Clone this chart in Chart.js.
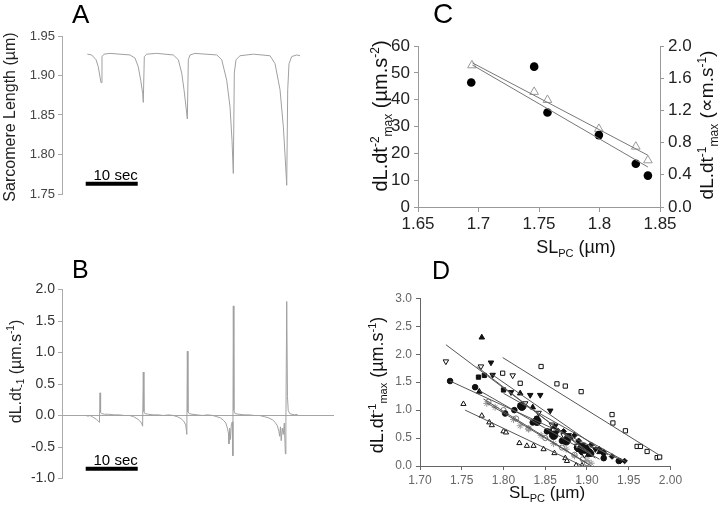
<!DOCTYPE html>
<html><head><meta charset="utf-8">
<script src="https://cdn.jsdelivr.net/npm/chart.js@4.4.0/dist/chart.umd.min.js"></script>
<style>
html,body{margin:0;padding:0;background:#fff;}
#wrap{position:relative;width:720px;height:515px;overflow:hidden;}
canvas{position:absolute;}
</style></head>
<body><div id="wrap">
<canvas id="cA" width="360" height="250" style="left:0;top:0"></canvas>
<canvas id="cB" width="360" height="265" style="left:0;top:250px"></canvas>
<canvas id="cC" width="360" height="260" style="left:360px;top:0"></canvas>
<canvas id="cD" width="360" height="255" style="left:360px;top:260px"></canvas>
</div>
<script>
// ---------- DATA ----------
// Panel A: sarcomere length trace (time s, SL µm)
const aTime = [4.87,5.71,6.54,6.98,7.31,7.50,7.69,8.08,9.23,13.08,
 14.04,14.67,15.13,15.52,15.63,15.83,16.29,18.21,21.40,22.37,
 23.02,23.46,23.85,24.10,24.29,24.62,25.58,29.75,30.71,31.67,
 32.31,32.69,32.94,33.13,33.46,34.23,36.79,40.00,40.96,41.92,
 42.56,42.94,43.21,43.40,43.65,44.17,45.13,45.77];
const aSL = [1.927,1.926,1.920,1.911,1.898,1.891,1.924,1.927,1.928,1.926,
 1.922,1.911,1.894,1.877,1.866,1.924,1.927,1.928,1.926,1.920,
 1.903,1.882,1.860,1.845,1.920,1.926,1.928,1.926,1.920,1.894,
 1.860,1.818,1.776,1.903,1.920,1.925,1.927,1.925,1.915,1.882,
 1.835,1.793,1.761,1.882,1.915,1.924,1.926,1.925];
const aScaleBarT = [4.56, 14.56];
const aScaleBarY = [1.763, 1.763];

// Panel B: velocity trace (time s, dL/dt µm/s)
const bTime = [4.6,5.0,5.4,5.8,6.2,6.6,7.0,7.2,7.31,7.42,
 7.6,8.2,9.0,10.0,11.0,12.0,13.0,13.8,14.4,14.9,
 15.3,15.5,15.63,15.75,15.95,16.6,17.5,18.5,19.5,20.5,
 21.4,22.2,22.9,23.4,23.8,24.0,24.1,24.22,24.45,25.0,
 26.0,27.0,28.0,29.0,29.8,30.5,31.1,31.5,31.8,32.0,
 32.1,32.25,32.4,32.55,32.75,32.85,32.94,33.05,33.3,34.0,
 35.0,36.0,37.0,38.0,39.0,39.8,40.5,41.0,41.4,41.7,
 41.85,42.0,42.15,42.35,42.55,42.75,42.95,43.05,43.21,43.35,
 43.5,43.8,44.2,44.7,45.3];
const bVel = [0.00,-0.01,0.00,-0.02,-0.04,-0.06,-0.09,-0.11,0.36,0.05,
 0.03,0.02,0.02,0.01,0.01,0.00,0.00,-0.02,-0.05,-0.08,
 -0.12,-0.17,0.69,0.06,0.03,0.02,0.01,0.01,0.00,0.01,
 0.00,-0.02,-0.05,-0.09,-0.15,-0.30,1.02,0.06,0.03,0.02,
 0.01,0.00,0.01,0.00,-0.02,-0.04,-0.08,-0.12,-0.20,-0.28,
 -0.45,-0.20,-0.38,-0.15,-0.10,-0.64,1.74,0.08,0.03,0.02,
 0.01,0.01,0.00,0.00,-0.02,-0.04,-0.07,-0.11,-0.16,-0.25,
 -0.33,-0.18,-0.40,-0.20,-0.30,-0.12,-0.61,-0.10,1.81,0.30,
 0.08,0.03,0.02,0.01,0.02];
const bScaleBarT = [4.56, 14.56];
const bScaleBarY = [-0.846, -0.846];

// Panel C
const cSL = [1.694,1.746,1.757,1.7995,1.830,1.840];
const cAccel = [46.4,52.3,35.2,26.8,16.1,11.7];          // left axis, filled circles
const cSLtri = [1.6946,1.746,1.757,1.7995,1.830,1.840];
const cVel = [1.76,1.43,1.33,0.97,0.75,0.58];            // right axis, open triangles
const cFitAccelX = [1.695,1.840], cFitAccelY = [52.9,14.9];
const cFitVelX = [1.695,1.840],   cFitVelY = [1.79,0.643];

// Panel D
const dSqX = [1.799,1.820,1.845,1.864,1.874,1.893,1.930,1.931,1.946,1.960,1.964,1.972,1.984,1.987];
const dSqY = [1.66,1.48,1.78,1.47,1.43,1.33,0.92,0.77,0.63,0.35,0.35,0.26,0.15,0.16];
const dTriDownOpenX = [1.731,1.773,1.811,1.826,1.842,1.858,1.872,1.888,1.897];
const dTriDownOpenY = [1.87,1.78,1.62,1.12,0.95,0.74,0.55,0.36,0.20];
const dCircleX = [1.736,1.766,1.802,1.813,1.835,1.852,1.870,1.888,1.905,1.920,1.938];
const dCircleY = [1.52,1.41,0.94,1.00,0.78,0.62,0.45,0.33,0.22,0.14,0.09];
const dTriUpOpenX = [1.752,1.774,1.783,1.786,1.800,1.803,1.819,1.828,1.836,1.848,1.861,1.874,1.876,1.887,1.894];
const dTriUpOpenY = [1.11,0.90,0.78,0.73,0.62,0.60,0.41,0.36,0.36,0.30,0.23,0.14,0.09,0.01,0.01];
const dSqFillX = [1.770,1.777,1.800,1.820,1.840,1.855,1.872,1.890,1.900];
const dSqFillY = [1.59,1.62,1.36,1.08,0.85,0.62,0.45,0.30,0.22];
const dTriDownFillX = [1.785,1.787,1.809,1.832,1.844,1.856,1.862,1.878,1.895,1.910,1.920];
const dTriDownFillY = [1.85,1.63,1.32,1.27,1.27,0.99,0.72,0.55,0.38,0.30,0.20];
const dTriUpFillX = [1.774,1.771,1.820,1.835,1.860,1.880,1.900,1.915];
const dTriUpFillY = [2.30,1.33,1.30,1.05,0.70,0.50,0.32,0.25];
const dDiamondX = [1.840,1.865,1.872,1.885,1.890,1.905,1.915,1.920,1.930,1.940,1.945];
const dDiamondY = [0.85,0.63,0.62,0.55,0.45,0.38,0.30,0.25,0.17,0.09,0.09];
const dStarX = [1.780,1.790,1.812,1.820,1.830,1.845,1.860,1.875,1.885,1.900,1.905];
const dStarY = [1.12,1.05,0.83,0.72,0.66,0.55,0.40,0.30,0.18,0.10,0.05];
const dCircOpenX = [1.782,1.800,1.815,1.830,1.850,1.870,1.885,1.895,1.900];
const dCircOpenY = [1.15,1.00,0.85,0.67,0.50,0.33,0.20,0.12,0.05];
const dBigDotX = [1.822,1.840,1.860,1.875,1.890,1.895,1.898,1.902];
const dBigDotY = [1.07,0.80,0.55,0.45,0.33,0.27,0.30,0.24];
// regression lines in D (start/end)
const dFitX0 = [1.799,1.731,1.736,1.754,1.768,1.785,1.771,1.800,1.780,1.776];
const dFitY0 = [1.94, 2.17, 1.52, 1.00, 1.78, 1.65, 1.35, 1.30, 1.13, 1.20];
const dFitX1 = [1.986,1.905,1.942,1.895,1.910,1.925,1.915,1.946,1.905,1.900];
const dFitY1 = [0.20, 0.22, 0.10, 0.00, 0.14, 0.20, 0.12, 0.08, 0.00, 0.05];

// ---------- HELPERS ----------
const FAM = "'Liberation Sans', Arial, Helvetica, sans-serif";
Chart.defaults.font.family = FAM;
const pts = (xs, ys) => xs.map((x, i) => ({x: x, y: ys[i]}));

function rich(ctx, parts, x, y, size, rotate, color) {
  ctx.save();
  ctx.translate(x, y);
  if (rotate) ctx.rotate(-Math.PI / 2);
  const small = Math.round(size * 0.62);
  const widths = [];
  let w = 0;
  parts.forEach(([t, k]) => {
    ctx.font = (k ? small : size) + 'px ' + FAM;
    const ww = ctx.measureText(t).width; widths.push(ww); w += ww;
  });
  let cx = -w / 2;
  ctx.fillStyle = color || '#111';
  ctx.textAlign = 'left';
  ctx.textBaseline = 'alphabetic';
  parts.forEach(([t, k], i) => {
    ctx.font = (k ? small : size) + 'px ' + FAM;
    const dy = k === 'sup' ? -size * 0.40 : (k === 'sub' ? size * 0.22 : 0);
    ctx.fillText(t, cx, dy + size * 0.36);
    cx += widths[i];
  });
  ctx.restore();
}
function label(ctx, text, x, y, size, align, color) {
  ctx.save();
  ctx.font = size + 'px ' + FAM;
  ctx.fillStyle = color || '#000';
  ctx.textAlign = align || 'left';
  ctx.textBaseline = 'alphabetic';
  ctx.fillText(text, x, y);
  ctx.restore();
}
function scaleBarText(chart, idx) {
  const m = chart.getDatasetMeta(idx);
  const p = m.data[1];
  label(chart.ctx, '10 sec', p.x, p.y - 3.5, 15, 'right', '#000');
}
const baseOpts = (pad) => ({
  responsive: false, animation: false, devicePixelRatio: 1,
  layout: {padding: pad, autoPadding: false},
  plugins: {legend: {display: false}, tooltip: {enabled: false}},
  events: []
});
function vAxis(o) {
  return {
    type: 'linear', position: o.position || 'left', min: o.min, max: o.max,
    ticks: {stepSize: o.step, callback: o.fmt, color: o.color, font: {size: o.size, family: FAM}, padding: o.pad || 3},
    grid: Object.assign({drawOnChartArea: false, tickLength: 4, tickColor: o.axisColor, color: o.axisColor}, o.grid || {}),
    border: {color: o.axisColor, width: 1},
    afterFit: (s) => { s.width = o.width; }
  };
}

// ---------- PANEL A ----------
new Chart(document.getElementById('cA'), {
  type: 'scatter',
  data: {datasets: [
    {data: pts(aTime, aSL), showLine: true, borderColor: '#a0a0a0', borderWidth: 1, pointRadius: 0, tension: 0},
    {data: pts(aScaleBarT, aScaleBarY), showLine: true, borderColor: '#000', borderWidth: 4, pointRadius: 0, borderCapStyle: 'butt'}
  ]},
  options: Object.assign(baseOpts({top: 36, right: 26, bottom: 56, left: 0}), {
    scales: {
      x: {type: 'linear', min: 0, max: 52.3, display: false},
      y: vAxis({min: 1.75, max: 1.95, step: 0.05, fmt: v => v.toFixed(2), color: '#444', size: 13, axisColor: '#aaa', width: 62})
    }
  }),
  plugins: [{id: 'txtA', afterDraw(chart) {
    const ctx = chart.ctx;
    label(ctx, 'A', 72, 23, 26);
    rich(ctx, [['Sarcomere Length (µm)', '']], 9, 117, 16, true, '#222');
    scaleBarText(chart, 1);
  }}]
});

// ---------- PANEL B ----------
new Chart(document.getElementById('cB'), {
  type: 'scatter',
  data: {datasets: [
    {data: pts(bTime, bVel), showLine: true, borderColor: '#a0a0a0', borderWidth: 1, pointRadius: 0, tension: 0},
    {data: pts(bScaleBarT, bScaleBarY), showLine: true, borderColor: '#000', borderWidth: 4, pointRadius: 0, borderCapStyle: 'butt'}
  ]},
  options: Object.assign(baseOpts({top: 39.5, right: 26, bottom: 36.5, left: 0}), {
    scales: {
      x: {type: 'linear', min: 0, max: 52.3, display: false},
      y: vAxis({min: -1, max: 2, step: 0.5, fmt: v => v.toFixed(1), color: '#333', size: 14, axisColor: '#aaa', width: 62,
        grid: {drawOnChartArea: true, color: c => (c.tick && Math.abs(c.tick.value) < 1e-9) ? '#a5a5a5' : 'rgba(0,0,0,0)', tickColor: '#aaa'}})
    }
  }),
  plugins: [{id: 'txtB', afterDraw(chart) {
    const ctx = chart.ctx;
    label(ctx, 'B', 72, 27.7, 25);
    rich(ctx, [['dL.dt', ''], ['-1', 'sub'], [' (µm.s', ''], ['-1', 'sup'], [')', '']], 15, 121.5, 16, true, '#222');
    scaleBarText(chart, 1);
  }}]
});

// ---------- PANEL C ----------
new Chart(document.getElementById('cC'), {
  type: 'scatter',
  data: {datasets: [
    {data: pts(cFitVelX, cFitVelY), yAxisID: 'y2', showLine: true, borderColor: '#777', borderWidth: 1, pointRadius: 0},
    {data: pts(cFitAccelX, cFitAccelY), yAxisID: 'y', showLine: true, borderColor: '#777', borderWidth: 1, pointRadius: 0},
    {data: pts(cSL, cAccel), yAxisID: 'y', pointStyle: 'circle', pointRadius: 4.3, backgroundColor: '#000', borderColor: '#000', borderWidth: 0},
    {data: pts(cSLtri, cVel), yAxisID: 'y2', pointStyle: 'triangle', pointRadius: 5, backgroundColor: 'rgba(255,255,255,0)', borderColor: '#999', borderWidth: 1}
  ]},
  options: Object.assign(baseOpts({top: 46, right: 0, bottom: 0, left: 0}), {
    scales: {
      x: {type: 'linear', min: 1.65, max: 1.85,
        ticks: {stepSize: 0.05, callback: v => String(+v.toFixed(2)), color: '#222', font: {size: 17, family: FAM}, padding: 2, maxRotation: 0},
        grid: {drawOnChartArea: false, tickLength: 5, tickColor: '#999', color: '#999'},
        border: {color: '#999'},
        afterFit: s => { s.height = 53; }},
      y: vAxis({min: 0, max: 60, step: 10, fmt: v => String(v), color: '#222', size: 17, axisColor: '#999', width: 58, pad: 4}),
      y2: vAxis({position: 'right', min: 0, max: 2, step: 0.4, fmt: v => v.toFixed(1), color: '#222', size: 17, axisColor: '#999', width: 60, pad: 4})
    }
  }),
  plugins: [{id: 'txtC', afterDraw(chart) {
    const ctx = chart.ctx;
    label(ctx, 'C', 73, 23, 28);
    rich(ctx, [['dL.dt', ''], ['-2', 'sup'], ['max', 'sub'], [' (µm.s', ''], ['-2', 'sup'], [')', '']], 20, 116, 20, true, '#111');
    rich(ctx, [['dL.dt', ''], ['-1', 'sup'], ['max', 'sub'], [' (∝m.s', ''], ['-1', 'sup'], [')', '']], 346.5, 125, 19, true, '#111');
    rich(ctx, [['SL', ''], ['PC', 'sub'], [' (µm)', '']], 216, 247, 18, false, '#111');
  }}]
});

// ---------- PANEL D ----------
const dMarkers = [
  {x: dSqX, y: dSqY, style: 'rect', fill: false, r: 3},
  {x: dTriDownOpenX, y: dTriDownOpenY, style: 'triangle', rot: 180, fill: false, r: 3.2},
  {x: dCircleX, y: dCircleY, style: 'circle', fill: true, r: 2.8},
  {x: dTriUpOpenX, y: dTriUpOpenY, style: 'triangle', fill: false, r: 3},
  {x: dSqFillX, y: dSqFillY, style: 'rect', fill: true, r: 3},
  {x: dTriDownFillX, y: dTriDownFillY, style: 'triangle', rot: 180, fill: true, r: 3.2},
  {x: dTriUpFillX, y: dTriUpFillY, style: 'triangle', fill: true, r: 3.2},
  {x: dDiamondX, y: dDiamondY, style: 'rectRot', fill: true, r: 2.8},
  {x: dStarX, y: dStarY, style: 'star', fill: false, r: 3.5, color: '#999'},
  {x: dCircOpenX, y: dCircOpenY, style: 'circle', fill: false, r: 2.6, color: '#777'},
  {x: dBigDotX, y: dBigDotY, style: 'circle', fill: true, r: 4.2}
];
const dDatasets = [];
dFitX0.forEach((x0, i) => {
  dDatasets.push({data: pts([x0, dFitX1[i]], [dFitY0[i], dFitY1[i]]), showLine: true, borderColor: '#555', borderWidth: 1, pointRadius: 0});
});
dMarkers.forEach(m => {
  const c = m.color || '#111';
  dDatasets.push({data: pts(m.x, m.y), pointStyle: m.style, pointRotation: m.rot || 0, pointRadius: m.r,
    backgroundColor: m.fill ? c : '#fff', borderColor: c, borderWidth: 1});
});
new Chart(document.getElementById('cD'), {
  type: 'scatter',
  data: {datasets: dDatasets},
  options: Object.assign(baseOpts({top: 38.3, right: 49.5, bottom: 0, left: 0}), {
    scales: {
      x: {type: 'linear', min: 1.70, max: 2.00,
        ticks: {stepSize: 0.05, callback: v => v.toFixed(2), color: '#666', font: {size: 12, family: FAM}, padding: 3, maxRotation: 0},
        grid: {drawOnChartArea: false, tickLength: 4, tickColor: '#666', color: '#666'},
        border: {color: '#666'},
        afterFit: s => { s.height = 49; }},
      y: vAxis({min: 0, max: 3, step: 0.5, fmt: v => v.toFixed(1), color: '#666', size: 12, axisColor: '#666', width: 60, pad: 4})
    }
  }),
  plugins: [{id: 'txtD', afterDraw(chart) {
    const ctx = chart.ctx;
    label(ctx, 'D', 72, 19, 25);
    rich(ctx, [['dL.dt', ''], ['-1', 'sup'], ['max', 'sub'], [' (µm.s', ''], ['-1', 'sup'], [')', '']], 17, 125, 18, true, '#111');
    rich(ctx, [['SL', ''], ['PC', 'sub'], [' (µm)', '']], 187, 232, 17, false, '#111');
  }}]
});
</script>
</body></html>
